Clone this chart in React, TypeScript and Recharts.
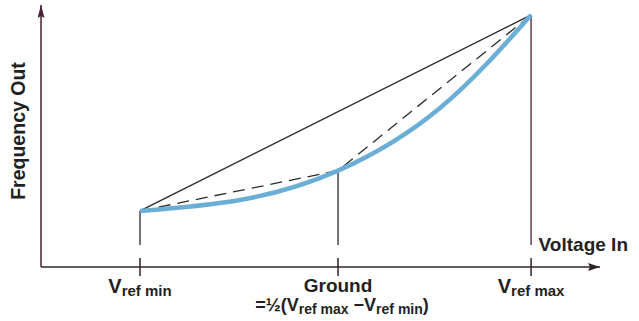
import React from "react";
import { ComposedChart, Line, XAxis, YAxis, ReferenceLine } from "recharts";

// ---- data ----
const voltageTicks = [-1, 0, 0.975];
const tickMain = ["V", "Ground", "V"];
const tickSub = ["ref min", "", "ref max"];
const groundNote = ["=½(V", "ref max", " −V", "ref min", ")"];
const xTitle = "Voltage In";
const yTitle = "Frequency Out";

const curveVoltage = [-1, -0.495, 0, 0.515, 0.975];
const curveFrequency = [2.14, 2.56, 3.68, 6.07, 9.62];
const chordVoltage = [-1, 0.975];
const chordFrequency = [2.14, 9.62];
const dashedVoltage = [-1, 0, 0.975];
const dashedFrequency = [2.14, 3.68, 9.62];
const dropBottom = 0.84;
const tickHalf = 0.34;

const curveData = curveVoltage.map((v, i) => ({ v, f: curveFrequency[i] }));
const chordData = chordVoltage.map((v, i) => ({ v, f: chordFrequency[i] }));
const dashedData = dashedVoltage.map((v, i) => ({ v, f: dashedFrequency[i] }));

const FONT = "'Liberation Sans', Arial, Helvetica, sans-serif";
const TEXT = "#231f22";
const AXIS_X = "#2b2528";
const AXIS_Y = "#4a2035";

const VoltageTick = (props: any) => {
  const { x, y, payload } = props;
  const i = voltageTicks.indexOf(payload.value);
  if (i < 0) return null;
  if (tickSub[i]) {
    return (
      <text x={x} y={y + 26} textAnchor="middle" fontFamily={FONT} fontWeight="bold" fill={TEXT}>
        <tspan fontSize={20}>{tickMain[i]}</tspan>
        <tspan fontSize={15} dy={3}>{tickSub[i]}</tspan>
      </text>
    );
  }
  return (
    <g>
      <text x={x} y={y + 25} textAnchor="middle" fontFamily={FONT} fontWeight="bold" fontSize={19} fill={TEXT}>
        {tickMain[i]}
      </text>
      <text x={x + 4} y={y + 44} textAnchor="middle" fontFamily={FONT} fontWeight="bold" fill={TEXT}>
        <tspan fontSize={18}>{groundNote[0]}</tspan>
        <tspan fontSize={14} dy={3}>{groundNote[1]}</tspan>
        <tspan fontSize={18} dy={-3}>{groundNote[2]}</tspan>
        <tspan fontSize={14} dy={3}>{groundNote[3]}</tspan>
        <tspan fontSize={18} dy={-3}>{groundNote[4]}</tspan>
      </text>
    </g>
  );
};

const renderYTitle = (props: any) => {
  const vb = props.viewBox || { x: 0, y: 5, width: 41, height: 262 };
  const cx = vb.x + 25;
  const cy = vb.y + vb.height / 2 - 5;
  return (
    <text
      x={cx}
      y={cy}
      transform={`rotate(-90 ${cx} ${cy})`}
      textAnchor="middle"
      fontFamily={FONT}
      fontWeight="bold"
      fontSize={19.5}
      fill={TEXT}
    >
      {yTitle}
    </text>
  );
};

const renderXTitle = (props: any) => {
  const vb = props.viewBox || { x: 41, y: 267, width: 559, height: 54 };
  return (
    <text
      x={vb.x + vb.width + 28}
      y={vb.y - 16}
      textAnchor="end"
      fontFamily={FONT}
      fontWeight="bold"
      fontSize={19}
      fill={TEXT}
    >
      {xTitle}
    </text>
  );
};

export default function App() {
  return (
    <div style={{ width: 639, height: 321, background: "#fff" }}>
      <style>{"body{margin:0;background:#fff}"}</style>
      <ComposedChart width={639} height={321} margin={{ top: 5, right: 39, left: 0, bottom: 0 }}>
        <defs>
          <marker id="arrowX" markerUnits="userSpaceOnUse" markerWidth={13} markerHeight={9} refX={12} refY={4} orient="auto-start-reverse">
            <path d="M0,0 L12,4 L0,8 L2,4 z" fill={AXIS_X} />
          </marker>
          <marker id="arrowY" markerUnits="userSpaceOnUse" markerWidth={14} markerHeight={8} refX={13} refY={3.5} orient="auto-start-reverse">
            <path d="M0,0 L13,3.5 L0,7 L2,3.5 z" fill={AXIS_Y} />
          </marker>
        </defs>
        <XAxis
          dataKey="v"
          type="number"
          domain={[-1.5, 1.323]}
          ticks={voltageTicks}
          tick={<VoltageTick />}
          tickLine={false}
          tickSize={0}
          tickMargin={0}
          height={54}
          interval={0}
          allowDataOverflow
          axisLine={{ stroke: AXIS_X, strokeWidth: 1.5, markerEnd: "url(#arrowX)" }}
          label={{ content: renderXTitle }}
        />
        <YAxis
          dataKey="f"
          type="number"
          domain={[0, 10]}
          width={41}
          tick={false}
          tickLine={false}
          allowDataOverflow
          axisLine={{ stroke: AXIS_Y, strokeWidth: 1.5, markerStart: "url(#arrowY)" }}
          label={{ content: renderYTitle }}
        />
        {voltageTicks.map((v, i) => (
          <ReferenceLine
            key={"tick" + i}
            segment={[{ x: v, y: -tickHalf }, { x: v, y: tickHalf }]}
            stroke={AXIS_X}
            strokeWidth={1.5}
            ifOverflow="visible"
          />
        ))}
        {voltageTicks.map((v, i) => (
          <ReferenceLine
            key={"drop" + i}
            segment={[{ x: v, y: dropBottom }, { x: v, y: dashedFrequency[i] }]}
            stroke={i === 2 ? AXIS_Y : AXIS_X}
            strokeWidth={1.3}
            ifOverflow="visible"
          />
        ))}
        <Line
          data={chordData}
          dataKey="f"
          type="linear"
          stroke="#2b2b2b"
          strokeWidth={1.3}
          dot={false}
          activeDot={false}
          isAnimationActive={false}
        />
        <Line
          data={dashedData}
          dataKey="f"
          type="linear"
          stroke="#2b2b2b"
          strokeWidth={1.3}
          strokeDasharray="12 7"
          dot={false}
          activeDot={false}
          isAnimationActive={false}
        />
        <Line
          data={curveData}
          dataKey="f"
          type="natural"
          stroke="#6aaed6"
          strokeWidth={4.5}
          dot={false}
          activeDot={false}
          isAnimationActive={false}
        />
      </ComposedChart>
    </div>
  );
}
